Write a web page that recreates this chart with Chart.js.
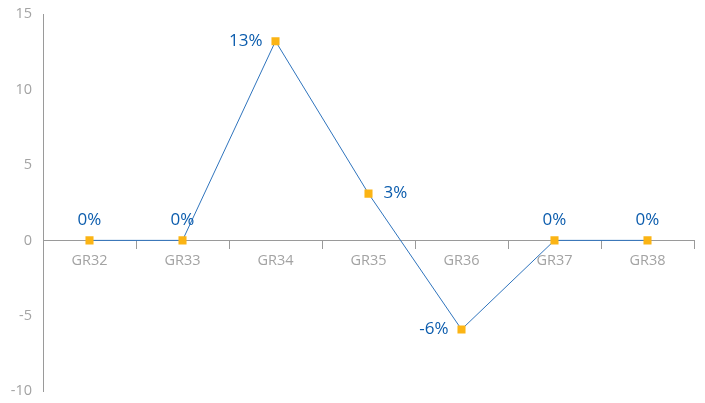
<!DOCTYPE html>
<html lang="en">
<head>
    <meta charset="UTF-8">
    <title>GR change</title>
    <style>
        body {
            margin: 0;
            padding: 0;
            background: #ffffff;
        }

        #wrap {
            width: 705px;
            height: 403px;
        }
    </style>
</head>
<body>
    <div id="wrap">
        <canvas id="changeChart" width="705" height="403"></canvas>
    </div>

    <script src="https://cdn.jsdelivr.net/npm/chart.js"></script>
    <script>
        const categories = ['GR32', 'GR33', 'GR34', 'GR35', 'GR36', 'GR37', 'GR38'];
        const changeValues = [0, 0, 13.2, 3.1, -5.9, 0, 0];
        // where each percentage label sits relative to its point
        const labelSides = ['top', 'top', 'left', 'right', 'left', 'top', 'top'];
        const yTicks = [-10, -5, 0, 5, 10, 15];

        const axisGrey = '#9a9a9a';
        const labelBlue = '#0b5cad';

        // draws the "13%" style labels next to each point
        const pointLabels = {
            id: 'pointLabels',
            afterDatasetsDraw(chart) {
                const ctx = chart.ctx;
                const meta = chart.getDatasetMeta(0);
                ctx.save();
                ctx.font = '17px "Open Sans", sans-serif';
                ctx.fillStyle = labelBlue;
                ctx.textBaseline = 'middle';
                meta.data.forEach(function(pt, i) {
                    const text = Math.round(changeValues[i]) + '%';
                    const side = labelSides[i];
                    if (side === 'top') {
                        ctx.textAlign = 'center';
                        ctx.fillText(text, pt.x, pt.y - 20);
                    } else if (side === 'left') {
                        ctx.textAlign = 'right';
                        ctx.fillText(text, pt.x - 13, pt.y);
                    } else {
                        ctx.textAlign = 'left';
                        ctx.fillText(text, pt.x + 15, pt.y);
                    }
                });
                ctx.restore();
            }
        };

        new Chart(document.getElementById('changeChart'), {
            type: 'line',
            data: {
                labels: categories,
                datasets: [{
                    data: changeValues,
                    borderColor: '#2f74bd',
                    borderWidth: 1,
                    pointStyle: 'rect',
                    pointRadius: 5.7,
                    pointBackgroundColor: '#fbb414',
                    pointBorderColor: '#fbb414',
                    pointBorderWidth: 0,
                    tension: 0
                }]
            },
            options: {
                responsive: false,
                animation: false,
                layout: {
                    padding: { top: 14, bottom: 8, left: 0, right: 11 }
                },
                plugins: {
                    legend: { display: false },
                    tooltip: { enabled: false }
                },
                scales: {
                    x: {
                        type: 'category',
                        position: { y: 0 },
                        offset: true,
                        grid: {
                            display: true,
                            drawOnChartArea: false,
                            drawTicks: true,
                            tickLength: 8,
                            color: axisGrey,
                            offset: true
                        },
                        border: {
                            display: true,
                            color: axisGrey,
                            width: 1
                        },
                        ticks: {
                            color: '#a3a3a3',
                            padding: 4,
                            font: { family: '"Open Sans", sans-serif', size: 14.5 }
                        }
                    },
                    y: {
                        min: -10,
                        max: 15,
                        afterFit(scale) {
                            scale.width = 43;
                        },
                        afterBuildTicks(scale) {
                            scale.ticks = yTicks.map(v => ({ value: v }));
                        },
                        grid: { display: false },
                        border: {
                            display: true,
                            color: axisGrey,
                            width: 1
                        },
                        ticks: {
                            color: '#a3a3a3',
                            padding: 3,
                            font: { family: '"Open Sans", sans-serif', size: 14.5 }
                        }
                    }
                }
            },
            plugins: [pointLabels]
        });
    </script>
</body>
</html>
